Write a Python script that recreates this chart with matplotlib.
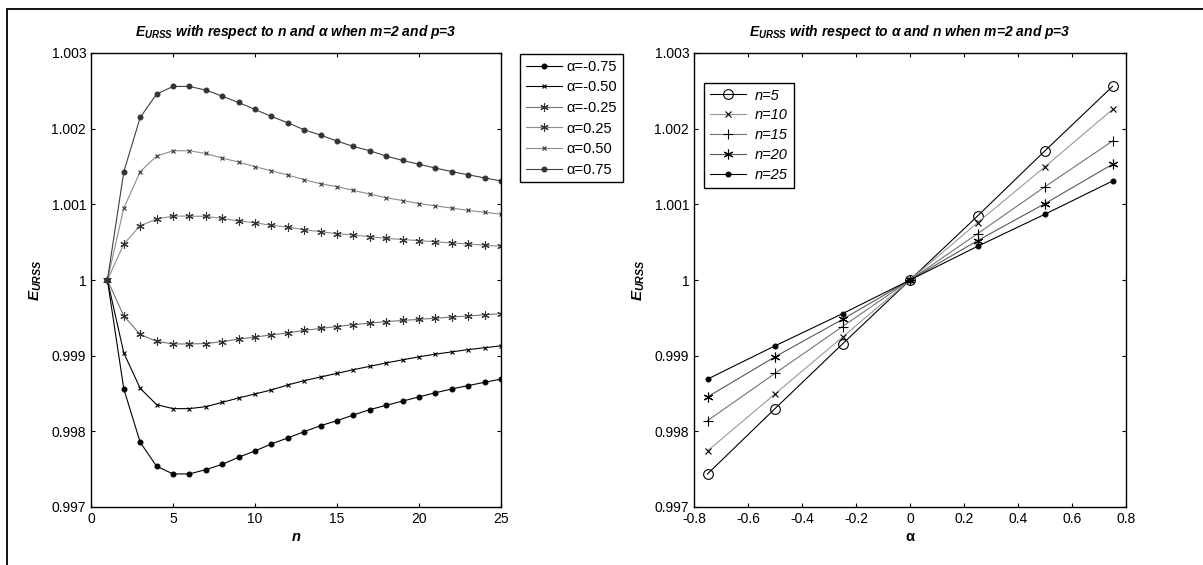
"""E_URSS against n and alpha for m=2, p=3 (two panels)."""
import matplotlib

matplotlib.use("Agg")
import matplotlib.pyplot as plt
import numpy as np
from matplotlib.patches import Rectangle

plt.rcParams.update(
    {
        "font.family": ["Liberation Sans", "DejaVu Sans"],
        "font.size": 10,
        "mathtext.fontset": "custom",
        "mathtext.it": "Liberation Sans:bold:italic",
        "mathtext.rm": "Liberation Sans:bold",
        "xtick.direction": "in",
        "ytick.direction": "in",
        "xtick.top": True,
        "ytick.right": True,
        "xtick.major.size": 3,
        "ytick.major.size": 3,
        "axes.linewidth": 1.0,
    }
)

n_vals = np.arange(1, 26)
alpha_vals = [-0.75, -0.50, -0.25, 0.0, 0.25, 0.50, 0.75]

# deviations from 1, in units of 1e-3
dev_m075 = [0, -1.440, -2.145, -2.462, -2.563, -2.563, -2.506, -2.436, -2.343, -2.259,
            -2.167, -2.087, -2.004, -1.925, -1.859, -1.784, -1.713, -1.656, -1.600, -1.545,
            -1.490, -1.440, -1.395, -1.352, -1.310]
dev_m050 = [0, -0.964, -1.432, -1.647, -1.700, -1.700, -1.674, -1.617, -1.559, -1.506,
            -1.453, -1.387, -1.330, -1.282, -1.234, -1.185, -1.141, -1.096, -1.055, -1.015,
            -0.980, -0.950, -0.920, -0.895, -0.870]
dev_m025 = [0, -0.476, -0.720, -0.810, -0.845, -0.845, -0.840, -0.815, -0.780, -0.755,
            -0.725, -0.700, -0.665, -0.640, -0.615, -0.590, -0.570, -0.550, -0.535, -0.520,
            -0.505, -0.490, -0.475, -0.460, -0.445]
dev_p025 = [0, 0.476, 0.717, 0.806, 0.845, 0.845, 0.840, 0.814, 0.779, 0.757,
            0.722, 0.700, 0.664, 0.638, 0.612, 0.594, 0.572, 0.550, 0.535, 0.520,
            0.505, 0.490, 0.475, 0.460, 0.445]
dev_p050 = [0, 0.951, 1.431, 1.638, 1.708, 1.708, 1.672, 1.611, 1.559, 1.497,
            1.444, 1.387, 1.325, 1.272, 1.233, 1.184, 1.136, 1.087, 1.050, 1.010,
            0.980, 0.950, 0.920, 0.895, 0.870]
dev_p075 = [0, 1.431, 2.148, 2.457, 2.558, 2.558, 2.510, 2.430, 2.346, 2.254,
            2.161, 2.078, 1.985, 1.915, 1.836, 1.765, 1.708, 1.638, 1.580, 1.530,
            1.479, 1.433, 1.390, 1.350, 1.308]

AST = (6, 2, 0)  # asterisk marker, closer to the matlab '*'

left_series = [
    ("\u03b1=-0.75", dev_m075, "k", ".", 7),
    ("\u03b1=-0.50", dev_m050, "k", "x", 3.5),
    ("\u03b1=-0.25", dev_m025, "0.45", AST, 6),
    ("\u03b1=0.25", dev_p025, "0.55", AST, 6),
    ("\u03b1=0.50", dev_p050, "0.55", "x", 3.5),
    ("\u03b1=0.75", dev_p075, "0.25", ".", 7),
]

# right panel: curves at fixed n, taken from the same table
n_pick = [5, 10, 15, 20, 25]
right_styles = [("k", "o", 7), ("0.6", "x", 4), ("0.45", "+", 7), ("0.35", AST, 7), ("k", ".", 7)]

yticks = [0.997, 0.998, 0.999, 1.0, 1.001, 1.002, 1.003]
ytick_labels = ["0.997", "0.998", "0.999", "1", "1.001", "1.002", "1.003"]
bi = dict(fontweight="bold", fontstyle="italic")

W, H = 1203, 565
fig = plt.figure(figsize=(W / 100, H / 100), dpi=100)
fig.patches.append(Rectangle((7 / W, -0.1), 1.2, 1.1 - 9 / H,
                             transform=fig.transFigure, fill=False, lw=1.3, ec="k"))

ax1 = fig.add_axes([91 / W, 58 / H, 410 / W, 454 / H])
for label, dev, col, mk, ms in left_series:
    y = 1 + np.array(dev) * 1e-3
    mc = "k" if col == "k" else "0.2"
    ax1.plot(n_vals, y, color=col, lw=0.8, marker=mk, ms=ms, mec=mc, mfc=mc, mew=0.8, label=label)
ax1.set_xlim(0, 25)
ax1.set_ylim(0.997, 1.003)
ax1.set_xticks([0, 5, 10, 15, 20, 25])
ax1.set_yticks(yticks)
ax1.set_yticklabels(ytick_labels)
ax1.set_title(r"$E_{URSS}$ with respect to n and $\alpha$ when m=2 and p=3", fontsize=10, pad=12, **bi)
ax1.set_xlabel("n", fontsize=10.5, labelpad=3, **bi)
ax1.set_ylabel(r"$E_{URSS}$", fontsize=11, labelpad=5)
leg1 = ax1.legend(loc="upper left", bbox_to_anchor=(520 / W, 1 - 54 / H), bbox_transform=fig.transFigure,
                  fancybox=False, edgecolor="k", framealpha=1, fontsize=10.5, handlelength=2.5,
                  handletextpad=0.3, borderpad=0.4, labelspacing=0.45, borderaxespad=0)
leg1.get_frame().set_linewidth(1.0)

ax2 = fig.add_axes([694 / W, 58 / H, 432 / W, 454 / H])
for n, (col, mk, ms) in zip(n_pick, right_styles):
    i = n - 1
    devs = [dev_m075[i], dev_m050[i], dev_m025[i], 0.0, dev_p025[i], dev_p050[i], dev_p075[i]]
    y = 1 + np.array(devs) * 1e-3
    face = "none" if mk == "o" else "k"
    ax2.plot(alpha_vals, y, color=col, lw=0.8, marker=mk, ms=ms, mec="k", mfc=face, mew=0.8,
             label=f"n={n}")
ax2.set_xlim(-0.8, 0.8)
ax2.set_ylim(0.997, 1.003)
ax2.set_xticks(np.round(np.arange(-0.8, 0.81, 0.2), 1))
ax2.set_xticklabels(["-0.8", "-0.6", "-0.4", "-0.2", "0", "0.2", "0.4", "0.6", "0.8"])
ax2.set_yticks(yticks)
ax2.set_yticklabels(ytick_labels)
ax2.set_title(r"$E_{URSS}$ with respect to $\alpha$ and n when m=2 and p=3", fontsize=10, pad=12, **bi)
ax2.set_xlabel("\u03b1", fontsize=10.5, labelpad=3, fontweight="bold")
ax2.set_ylabel(r"$E_{URSS}$", fontsize=11, labelpad=5)
leg2 = ax2.legend(loc="upper left", bbox_to_anchor=(704 / W, 1 - 82.7 / H), bbox_transform=fig.transFigure,
                  fancybox=False, edgecolor="k", framealpha=1, handlelength=2.5,
                  handletextpad=0.6, borderpad=0.4, labelspacing=0.4, borderaxespad=0,
                  prop={"style": "italic", "size": 10.5})
leg2.get_frame().set_linewidth(1.0)

fig.savefig("out.png", dpi=100)
